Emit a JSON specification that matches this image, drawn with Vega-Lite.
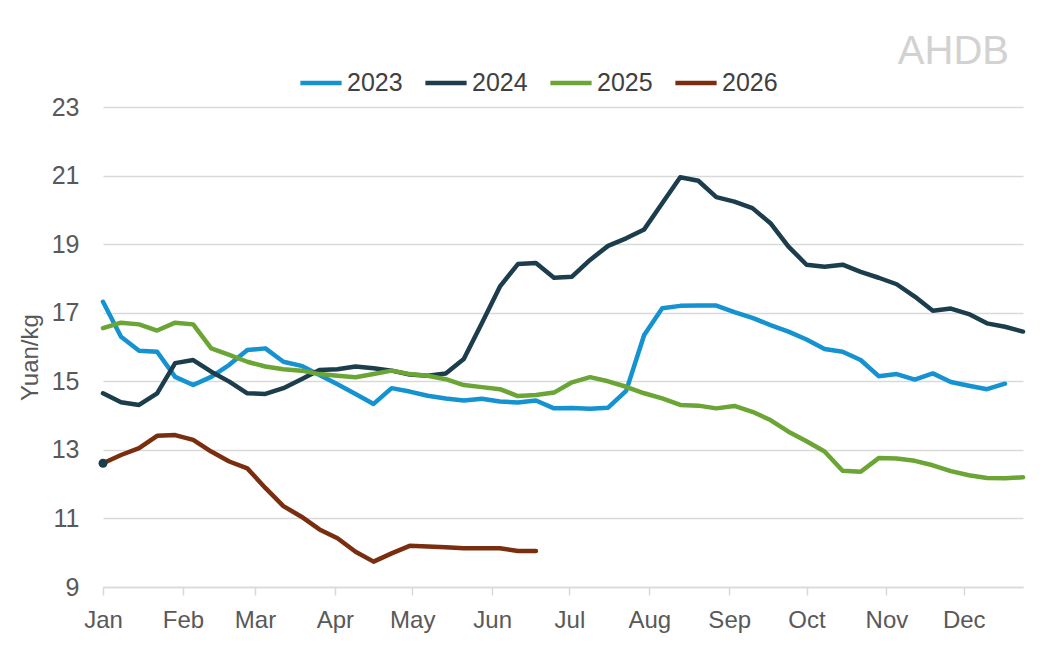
{
  "$schema": "https://vega.github.io/schema/vega-lite/v6.json",
  "width": 920,
  "height": 480,
  "autosize": {"type": "none"},
  "padding": {"left": 103, "top": 107, "right": 21, "bottom": 69},
  "background": "white",
  "title": {
    "text": "AHDB",
    "anchor": "end",
    "frame": "group",
    "font": "Liberation Sans",
    "fontSize": 40,
    "fontWeight": "normal",
    "color": "#d2d2d2",
    "offset": 45,
    "dx": -14,
    "dy": 57
  },
  "config": {
    "view": {"stroke": null},
    "font": "Liberation Sans"
  },
  "layer": [
    {
      "data": {
        "values": [
          {"s": "2023", "w": "2001-01-01", "v": 17.32},
          {"s": "2023", "w": "2001-01-08", "v": 16.30},
          {"s": "2023", "w": "2001-01-15", "v": 15.89},
          {"s": "2023", "w": "2001-01-22", "v": 15.86},
          {"s": "2023", "w": "2001-01-29", "v": 15.13},
          {"s": "2023", "w": "2001-02-05", "v": 14.89},
          {"s": "2023", "w": "2001-02-12", "v": 15.13},
          {"s": "2023", "w": "2001-02-19", "v": 15.48},
          {"s": "2023", "w": "2001-02-26", "v": 15.91},
          {"s": "2023", "w": "2001-03-05", "v": 15.96},
          {"s": "2023", "w": "2001-03-12", "v": 15.57},
          {"s": "2023", "w": "2001-03-19", "v": 15.45},
          {"s": "2023", "w": "2001-03-26", "v": 15.18},
          {"s": "2023", "w": "2001-04-02", "v": 14.91},
          {"s": "2023", "w": "2001-04-09", "v": 14.63},
          {"s": "2023", "w": "2001-04-16", "v": 14.34},
          {"s": "2023", "w": "2001-04-23", "v": 14.80},
          {"s": "2023", "w": "2001-04-30", "v": 14.70},
          {"s": "2023", "w": "2001-05-07", "v": 14.58},
          {"s": "2023", "w": "2001-05-14", "v": 14.50},
          {"s": "2023", "w": "2001-05-21", "v": 14.44},
          {"s": "2023", "w": "2001-05-28", "v": 14.49},
          {"s": "2023", "w": "2001-06-04", "v": 14.41},
          {"s": "2023", "w": "2001-06-11", "v": 14.38},
          {"s": "2023", "w": "2001-06-18", "v": 14.44},
          {"s": "2023", "w": "2001-06-25", "v": 14.21},
          {"s": "2023", "w": "2001-07-02", "v": 14.22},
          {"s": "2023", "w": "2001-07-09", "v": 14.20},
          {"s": "2023", "w": "2001-07-16", "v": 14.23},
          {"s": "2023", "w": "2001-07-23", "v": 14.72},
          {"s": "2023", "w": "2001-07-30", "v": 16.35},
          {"s": "2023", "w": "2001-08-06", "v": 17.13},
          {"s": "2023", "w": "2001-08-13", "v": 17.20},
          {"s": "2023", "w": "2001-08-20", "v": 17.21},
          {"s": "2023", "w": "2001-08-27", "v": 17.21},
          {"s": "2023", "w": "2001-09-03", "v": 17.02},
          {"s": "2023", "w": "2001-09-10", "v": 16.85},
          {"s": "2023", "w": "2001-09-17", "v": 16.64},
          {"s": "2023", "w": "2001-09-24", "v": 16.45},
          {"s": "2023", "w": "2001-10-01", "v": 16.22},
          {"s": "2023", "w": "2001-10-08", "v": 15.94},
          {"s": "2023", "w": "2001-10-15", "v": 15.86},
          {"s": "2023", "w": "2001-10-22", "v": 15.62},
          {"s": "2023", "w": "2001-10-29", "v": 15.15},
          {"s": "2023", "w": "2001-11-05", "v": 15.21},
          {"s": "2023", "w": "2001-11-12", "v": 15.05},
          {"s": "2023", "w": "2001-11-19", "v": 15.23},
          {"s": "2023", "w": "2001-11-26", "v": 14.98},
          {"s": "2023", "w": "2001-12-03", "v": 14.87},
          {"s": "2023", "w": "2001-12-10", "v": 14.77},
          {"s": "2023", "w": "2001-12-17", "v": 14.93},

          {"s": "2024", "w": "2001-01-01", "v": 14.65},
          {"s": "2024", "w": "2001-01-08", "v": 14.39},
          {"s": "2024", "w": "2001-01-15", "v": 14.31},
          {"s": "2024", "w": "2001-01-22", "v": 14.65},
          {"s": "2024", "w": "2001-01-29", "v": 15.53},
          {"s": "2024", "w": "2001-02-05", "v": 15.62},
          {"s": "2024", "w": "2001-02-12", "v": 15.28},
          {"s": "2024", "w": "2001-02-19", "v": 14.99},
          {"s": "2024", "w": "2001-02-26", "v": 14.65},
          {"s": "2024", "w": "2001-03-05", "v": 14.63},
          {"s": "2024", "w": "2001-03-12", "v": 14.80},
          {"s": "2024", "w": "2001-03-19", "v": 15.06},
          {"s": "2024", "w": "2001-03-26", "v": 15.33},
          {"s": "2024", "w": "2001-04-02", "v": 15.35},
          {"s": "2024", "w": "2001-04-09", "v": 15.43},
          {"s": "2024", "w": "2001-04-16", "v": 15.38},
          {"s": "2024", "w": "2001-04-23", "v": 15.31},
          {"s": "2024", "w": "2001-04-30", "v": 15.20},
          {"s": "2024", "w": "2001-05-07", "v": 15.16},
          {"s": "2024", "w": "2001-05-14", "v": 15.23},
          {"s": "2024", "w": "2001-05-21", "v": 15.65},
          {"s": "2024", "w": "2001-05-28", "v": 16.69},
          {"s": "2024", "w": "2001-06-04", "v": 17.76},
          {"s": "2024", "w": "2001-06-11", "v": 18.42},
          {"s": "2024", "w": "2001-06-18", "v": 18.45},
          {"s": "2024", "w": "2001-06-25", "v": 18.02},
          {"s": "2024", "w": "2001-07-02", "v": 18.05},
          {"s": "2024", "w": "2001-07-09", "v": 18.54},
          {"s": "2024", "w": "2001-07-16", "v": 18.95},
          {"s": "2024", "w": "2001-07-23", "v": 19.17},
          {"s": "2024", "w": "2001-07-30", "v": 19.43},
          {"s": "2024", "w": "2001-08-06", "v": 20.19},
          {"s": "2024", "w": "2001-08-13", "v": 20.95},
          {"s": "2024", "w": "2001-08-20", "v": 20.85},
          {"s": "2024", "w": "2001-08-27", "v": 20.37},
          {"s": "2024", "w": "2001-09-03", "v": 20.24},
          {"s": "2024", "w": "2001-09-10", "v": 20.05},
          {"s": "2024", "w": "2001-09-17", "v": 19.61},
          {"s": "2024", "w": "2001-09-24", "v": 18.93},
          {"s": "2024", "w": "2001-10-01", "v": 18.40},
          {"s": "2024", "w": "2001-10-08", "v": 18.34},
          {"s": "2024", "w": "2001-10-15", "v": 18.40},
          {"s": "2024", "w": "2001-10-22", "v": 18.19},
          {"s": "2024", "w": "2001-10-29", "v": 18.02},
          {"s": "2024", "w": "2001-11-05", "v": 17.83},
          {"s": "2024", "w": "2001-11-12", "v": 17.47},
          {"s": "2024", "w": "2001-11-19", "v": 17.06},
          {"s": "2024", "w": "2001-11-26", "v": 17.12},
          {"s": "2024", "w": "2001-12-03", "v": 16.96},
          {"s": "2024", "w": "2001-12-10", "v": 16.69},
          {"s": "2024", "w": "2001-12-17", "v": 16.59},
          {"s": "2024", "w": "2001-12-24", "v": 16.45},

          {"s": "2025", "w": "2001-01-01", "v": 16.55},
          {"s": "2025", "w": "2001-01-08", "v": 16.71},
          {"s": "2025", "w": "2001-01-15", "v": 16.66},
          {"s": "2025", "w": "2001-01-22", "v": 16.48},
          {"s": "2025", "w": "2001-01-29", "v": 16.71},
          {"s": "2025", "w": "2001-02-05", "v": 16.66},
          {"s": "2025", "w": "2001-02-12", "v": 15.96},
          {"s": "2025", "w": "2001-02-19", "v": 15.77},
          {"s": "2025", "w": "2001-02-26", "v": 15.57},
          {"s": "2025", "w": "2001-03-05", "v": 15.43},
          {"s": "2025", "w": "2001-03-12", "v": 15.35},
          {"s": "2025", "w": "2001-03-19", "v": 15.31},
          {"s": "2025", "w": "2001-03-26", "v": 15.21},
          {"s": "2025", "w": "2001-04-02", "v": 15.16},
          {"s": "2025", "w": "2001-04-09", "v": 15.12},
          {"s": "2025", "w": "2001-04-16", "v": 15.21},
          {"s": "2025", "w": "2001-04-23", "v": 15.31},
          {"s": "2025", "w": "2001-04-30", "v": 15.21},
          {"s": "2025", "w": "2001-05-07", "v": 15.16},
          {"s": "2025", "w": "2001-05-14", "v": 15.06},
          {"s": "2025", "w": "2001-05-21", "v": 14.89},
          {"s": "2025", "w": "2001-05-28", "v": 14.83},
          {"s": "2025", "w": "2001-06-04", "v": 14.77},
          {"s": "2025", "w": "2001-06-11", "v": 14.57},
          {"s": "2025", "w": "2001-06-18", "v": 14.60},
          {"s": "2025", "w": "2001-06-25", "v": 14.67},
          {"s": "2025", "w": "2001-07-02", "v": 14.97},
          {"s": "2025", "w": "2001-07-09", "v": 15.12},
          {"s": "2025", "w": "2001-07-16", "v": 15.00},
          {"s": "2025", "w": "2001-07-23", "v": 14.84},
          {"s": "2025", "w": "2001-07-30", "v": 14.65},
          {"s": "2025", "w": "2001-08-06", "v": 14.50},
          {"s": "2025", "w": "2001-08-13", "v": 14.31},
          {"s": "2025", "w": "2001-08-20", "v": 14.29},
          {"s": "2025", "w": "2001-08-27", "v": 14.21},
          {"s": "2025", "w": "2001-09-03", "v": 14.28},
          {"s": "2025", "w": "2001-09-10", "v": 14.11},
          {"s": "2025", "w": "2001-09-17", "v": 13.87},
          {"s": "2025", "w": "2001-09-24", "v": 13.53},
          {"s": "2025", "w": "2001-10-01", "v": 13.25},
          {"s": "2025", "w": "2001-10-08", "v": 12.95},
          {"s": "2025", "w": "2001-10-15", "v": 12.39},
          {"s": "2025", "w": "2001-10-22", "v": 12.36},
          {"s": "2025", "w": "2001-10-29", "v": 12.76},
          {"s": "2025", "w": "2001-11-05", "v": 12.75},
          {"s": "2025", "w": "2001-11-12", "v": 12.68},
          {"s": "2025", "w": "2001-11-19", "v": 12.55},
          {"s": "2025", "w": "2001-11-26", "v": 12.38},
          {"s": "2025", "w": "2001-12-03", "v": 12.26},
          {"s": "2025", "w": "2001-12-10", "v": 12.18},
          {"s": "2025", "w": "2001-12-17", "v": 12.17},
          {"s": "2025", "w": "2001-12-24", "v": 12.20},

          {"s": "2026", "w": "2001-01-01", "v": 12.61},
          {"s": "2026", "w": "2001-01-08", "v": 12.85},
          {"s": "2026", "w": "2001-01-15", "v": 13.05},
          {"s": "2026", "w": "2001-01-22", "v": 13.41},
          {"s": "2026", "w": "2001-01-29", "v": 13.43},
          {"s": "2026", "w": "2001-02-05", "v": 13.29},
          {"s": "2026", "w": "2001-02-12", "v": 12.95},
          {"s": "2026", "w": "2001-02-19", "v": 12.66},
          {"s": "2026", "w": "2001-02-26", "v": 12.46},
          {"s": "2026", "w": "2001-03-05", "v": 11.89},
          {"s": "2026", "w": "2001-03-12", "v": 11.36},
          {"s": "2026", "w": "2001-03-19", "v": 11.05},
          {"s": "2026", "w": "2001-03-26", "v": 10.68},
          {"s": "2026", "w": "2001-04-02", "v": 10.42},
          {"s": "2026", "w": "2001-04-09", "v": 10.03},
          {"s": "2026", "w": "2001-04-16", "v": 9.74},
          {"s": "2026", "w": "2001-04-23", "v": 9.98},
          {"s": "2026", "w": "2001-04-30", "v": 10.20},
          {"s": "2026", "w": "2001-05-07", "v": 10.18},
          {"s": "2026", "w": "2001-05-14", "v": 10.16},
          {"s": "2026", "w": "2001-05-21", "v": 10.13},
          {"s": "2026", "w": "2001-05-28", "v": 10.13},
          {"s": "2026", "w": "2001-06-04", "v": 10.13},
          {"s": "2026", "w": "2001-06-11", "v": 10.05},
          {"s": "2026", "w": "2001-06-18", "v": 10.05}
        ]
      },
      "mark": {"type": "line", "strokeWidth": 4.5, "strokeCap": "round", "strokeJoin": "round"},
      "encoding": {
        "x": {
          "field": "w",
          "type": "temporal",
          "scale": {"type": "utc", "domain": ["2001-01-01", "2001-12-24"]},
          "axis": {
            "title": null,
            "format": "%b",
            "tickCount": {"interval": "month", "step": 1},
            "grid": false,
            "domainColor": "#d9d9d9",
            "domainWidth": 1.5,
            "tickColor": "#d9d9d9",
            "tickWidth": 1.5,
            "tickSize": 8,
            "labelPadding": 13,
            "labelFontSize": 24,
            "labelColor": "#595959",
            "labelOverlap": false,
            "labelFlush": false
          }
        },
        "y": {
          "field": "v",
          "type": "quantitative",
          "scale": {"domain": [9, 23], "nice": false, "zero": false},
          "axis": {
            "title": "Yuan/kg",
            "values": [9, 11, 13, 15, 17, 19, 21, 23],
            "domain": false,
            "ticks": false,
            "gridColor": "#d9d9d9",
            "gridWidth": 1.5,
            "labelFontSize": 25,
            "labelColor": "#595959",
            "labelPadding": 24,
            "titleFontSize": 24,
            "titleFontWeight": "normal",
            "titleColor": "#595959",
            "titlePadding": 9,
            "titleY": 250
          }
        },
        "color": {
          "field": "s",
          "type": "nominal",
          "scale": {
            "domain": ["2023", "2024", "2025", "2026"],
            "range": ["#1592d0", "#1c3d4c", "#6ba536", "#7a2e10"]
          },
          "legend": {
            "title": null,
            "orient": "none",
            "direction": "horizontal",
            "columns": 4,
            "legendX": 195,
            "legendY": -47,
            "symbolType": "stroke",
            "symbolSize": 1700,
            "symbolStrokeWidth": 4.5,
            "labelFontSize": 25,
            "labelColor": "#404040",
            "labelOffset": 3,
            "columnPadding": 13
          }
        }
      }
    },
    {
      "data": {"values": [{"s": "2026", "w": "2001-01-01", "v": 12.61}]},
      "mark": {"type": "point", "filled": true, "size": 80, "opacity": 1, "color": "#1c3d4c"},
      "encoding": {
        "x": {"field": "w", "type": "temporal"},
        "y": {"field": "v", "type": "quantitative"}
      }
    }
  ]
}
